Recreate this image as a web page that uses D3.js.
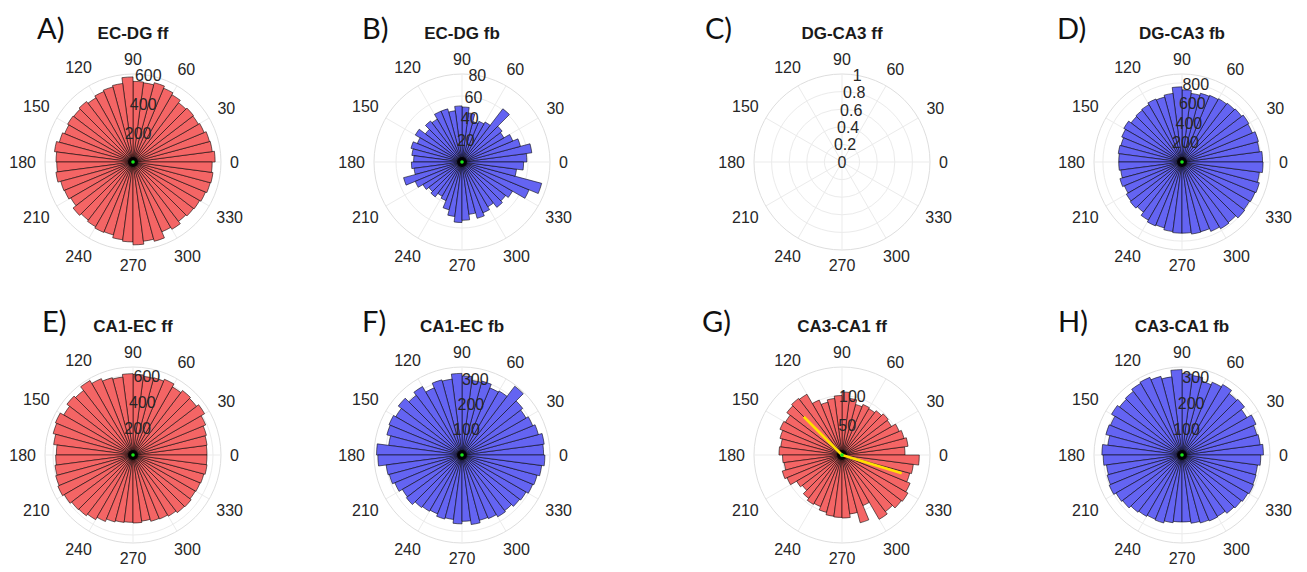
<!DOCTYPE html>
<html>
<head>
<meta charset="utf-8">
<script src="https://cdn.jsdelivr.net/npm/d3@7"></script>
<style>
  body { margin: 0; background: #fff; }
  svg { display: block; }
  text { font-family: "Liberation Sans", Arial, sans-serif; }
</style>
</head>
<body>
<svg id="chart" width="1307" height="572"></svg>
<script>
// 48 bins of 7.5 degrees, listed counter-clockwise from 0 deg
const binCount = 48;

const panelLetters = ["A)", "B)", "C)", "D)", "E)", "F)", "G)", "H)"];
const panelTitles = ["EC-DG ff", "EC-DG fb", "DG-CA3 ff", "DG-CA3 fb",
                     "CA1-EC ff", "CA1-EC fb", "CA3-CA1 ff", "CA3-CA1 fb"];
const panelKinds = ["ff", "fb", "ff", "fb", "ff", "fb", "ff", "fb"];

const ecdgFF = [560, 545, 540, 525, 515, 520, 510, 530, 545, 560, 545, 550,
                580, 540, 530, 520, 505, 520, 510, 515, 505, 520, 540, 525,
                520, 530, 510, 505, 490, 515, 500, 510, 520, 515, 535, 545,
                565, 545, 560, 515, 530, 510, 520, 525, 535, 545, 550, 540];
const ecdgFB = [59, 64, 55, 50, 44, 46, 61, 42, 40, 38, 45, 50,
                51, 47, 50, 50, 45, 47, 42, 49, 44, 48, 46, 44,
                46, 44, 55, 46, 41, 38, 40, 36, 38, 45, 50, 55,
                53, 48, 53, 50, 47, 52, 50, 53, 66, 75, 50, 56];
const dgca3FF = [];
const dgca3FB = [815, 790, 800, 770, 780, 760, 750, 740, 730, 720, 700, 730,
                 760, 700, 680, 690, 670, 660, 650, 680, 660, 640, 650, 640,
                 640, 625, 650, 630, 650, 660, 640, 680, 700, 690, 710, 720,
                 720, 735, 730, 760, 780, 770, 800, 790, 800, 810, 790, 820];
const ca1ecFF = [555, 560, 570, 590, 620, 600, 610, 590, 615, 600, 595, 605,
                 610, 590, 600, 620, 645, 610, 625, 600, 630, 620, 600, 575,
                 580, 590, 600, 610, 595, 580, 575, 560, 540, 520, 510, 505,
                 510, 500, 515, 520, 530, 545, 550, 540, 545, 550, 560, 555];
const ca1ecFB = [320, 325, 310, 300, 290, 300, 340, 290, 285, 300, 295, 310,
                 320, 300, 305, 285, 310, 295, 315, 300, 310, 305, 290, 335,
                 330, 300, 295, 285, 270, 275, 260, 255, 250, 260, 255, 270,
                 260, 275, 265, 270, 280, 275, 285, 290, 300, 305, 315, 325];
const ca3ca1FF = [106, 112, 108, 104, 96, 98, 94, 90, 92, 88, 96, 106,
                  100, 96, 92, 100, 118, 120, 117, 110, 113, 108, 104, 106,
                  100, 98, 104, 100, 88, 84, 92, 96, 94, 100, 104, 105,
                  106, 100, 118, 92, 125, 120, 126, 128, 124, 118, 121, 130];
const ca3ca1FB = [310, 300, 295, 305, 285, 300, 295, 310, 300, 290, 305, 310,
                  325, 300, 310, 320, 315, 305, 300, 310, 295, 300, 285, 305,
                  300, 290, 295, 300, 290, 285, 275, 270, 265, 268, 260, 255,
                  255, 262, 268, 272, 270, 280, 285, 290, 295, 292, 290, 300];
const panelCounts = [ecdgFF, ecdgFB, dgca3FF, dgca3FB, ca1ecFF, ca1ecFB, ca3ca1FF, ca3ca1FB];

// radial limits and labelled r ticks
const rMax = [600, 80, 1, 890, 660, 345, 148, 335];
const rTicks = [[200, 400, 600], [20, 40, 60, 80], [0, 0.2, 0.4, 0.6, 0.8, 1], [200, 400, 600, 800],
                [200, 400, 600], [100, 200, 300], [50, 100], [100, 200, 300]];
const angleTicks = [0, 30, 60, 90, 120, 150, 180, 210, 240, 270, 300, 330];

// yellow direction line drawn on panel G
const meanLineTheta = [135, 0, 343];
const meanLineR = [91, 0, 105];

// layout
const colX = [133, 462, 842, 1182];
const rowY = [162, 455];
const letterX = [37, 362, 705, 1057, 42, 362, 702, 1058];
const R = 88;
const colors = { ff: "#f46565", fb: "#6464f2" };

const svg = d3.select("#chart");
const deg = Math.PI / 180;

panelTitles.forEach((title, i) => {
    const cx = colX[i % 4];
    const cy = rowY[Math.floor(i / 4)];
    const g = svg.append("g").attr("transform", `translate(${cx},${cy})`);
    const r = d3.scaleLinear().domain([0, rMax[i]]).range([0, R]);
    const binAngle = d3.scaleLinear().domain([0, binCount]).range([0, 360]);

    // grid below the bars
    const rings = rTicks[i].filter(t => t > 0 && t < rMax[i]);
    g.selectAll(".ring")
        .data(rings)
        .enter()
        .append("circle")
        .attr("r", d => r(d))
        .attr("fill", "none")
        .attr("stroke", "#ebebeb")
        .attr("stroke-width", 1);
    g.append("circle")
        .attr("r", R)
        .attr("fill", "none")
        .attr("stroke", "#dedede")
        .attr("stroke-width", 1);
    g.selectAll(".spoke")
        .data(angleTicks)
        .enter()
        .append("line")
        .attr("x2", d => R * Math.cos(d * deg))
        .attr("y2", d => -R * Math.sin(d * deg))
        .attr("stroke", "#ebebeb")
        .attr("stroke-width", 1);

    // histogram bars
    const arc = d3.arc()
        .innerRadius(0)
        .outerRadius(d => r(d.value))
        .startAngle(d => Math.PI / 2 - binAngle(d.bin + 1) * deg)
        .endAngle(d => Math.PI / 2 - binAngle(d.bin) * deg);
    const bins = panelCounts[i].map((v, k) => ({ bin: k, value: v }));
    g.selectAll(".bar")
        .data(bins)
        .enter()
        .append("path")
        .attr("d", arc)
        .attr("fill", colors[panelKinds[i]])
        .attr("stroke", "#000")
        .attr("stroke-opacity", 0.8)
        .attr("stroke-width", 0.7);

    if (bins.length) {
        g.append("circle").attr("r", 5).attr("fill", "#000").attr("opacity", 0.85);
        g.append("circle").attr("r", 1.8).attr("fill", "#19e619");
    }

    // direction line on panel G
    if (i === 6) {
        const pts = meanLineTheta.map((t, k) => [r(meanLineR[k]) * Math.cos(t * deg), -r(meanLineR[k]) * Math.sin(t * deg)]);
        g.append("path")
            .attr("d", d3.line()(pts))
            .attr("fill", "none")
            .attr("stroke", "#ffe000")
            .attr("stroke-width", 2.6)
            .attr("stroke-linejoin", "round");
        g.append("circle").attr("r", 1.8).attr("fill", "#19e619");
    }

    // r tick labels along 80 degrees
    g.selectAll(".rlabel")
        .data(rTicks[i])
        .enter()
        .append("text")
        .attr("x", d => r(d) * Math.cos(80 * deg))
        .attr("y", d => -r(d) * Math.sin(80 * deg))
        .attr("text-anchor", "middle")
        .attr("dominant-baseline", "central")
        .style("font-size", "16px")
        .style("fill", "#262626")
        .text(d => d);

    // angle labels
    g.selectAll(".alabel")
        .data(angleTicks)
        .enter()
        .append("text")
        .attr("text-anchor", "middle")
        .attr("dominant-baseline", "central")
        .style("font-size", "16px")
        .style("fill", "#262626")
        .text(d => d)
        .each(function(d) {
            const w = this.getComputedTextLength();
            const c = Math.abs(Math.cos(d * deg)), s = Math.abs(Math.sin(d * deg));
            const rr = R + 9 + c * w / 2 + s * 6;
            d3.select(this)
                .attr("x", rr * Math.cos(d * deg))
                .attr("y", -rr * Math.sin(d * deg));
        });

    // title and panel letter
    g.append("text")
        .attr("y", -129)
        .attr("text-anchor", "middle")
        .attr("dominant-baseline", "central")
        .style("font-size", "17px")
        .style("font-weight", "bold")
        .style("fill", "#1a1a1a")
        .text(title);
    svg.append("text")
        .attr("x", letterX[i])
        .attr("y", cy - 135)
        .attr("dominant-baseline", "central")
        .style("font-family", "Lato, 'Open Sans', sans-serif")
        .style("font-size", "29px")
        .style("fill", "#111")
        .text(panelLetters[i]);
});
</script>
</body>
</html>
